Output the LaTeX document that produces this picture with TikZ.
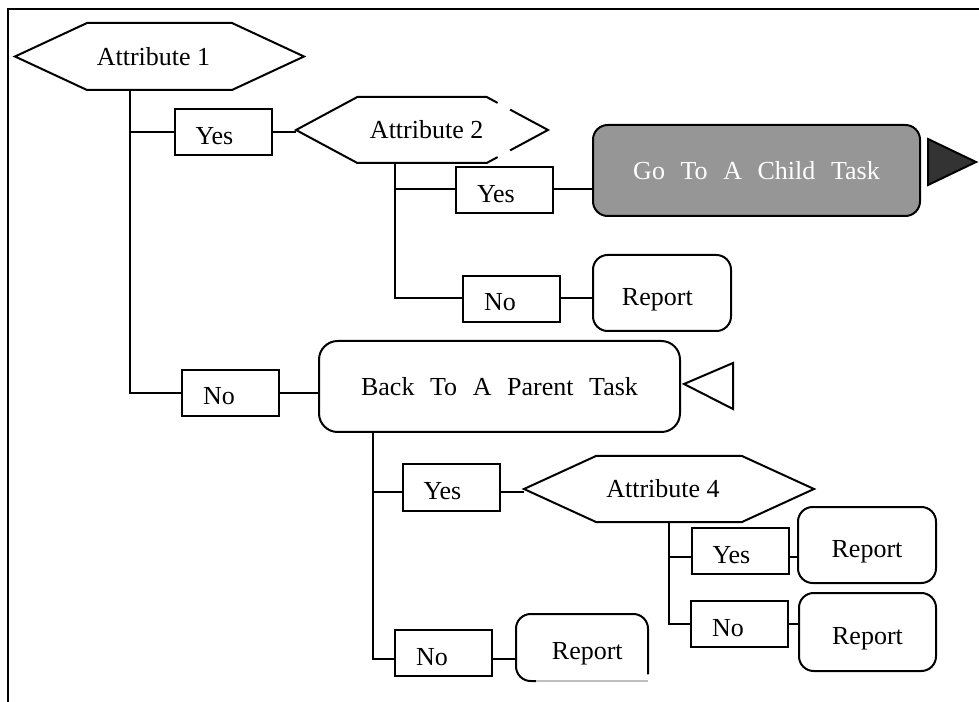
\documentclass[tikz,border=0pt]{standalone}
\usepackage{fontspec}
\setmainfont{Liberation Serif}
\usetikzlibrary{calc}

% hexagonal decision frame around a (borderless) node; #2 = depth of the points
\newcommand\hexframe[2]{%
  \draw (#1.west) -- ([xshift=#2]#1.north west) -- ([xshift=-#2]#1.north east)
    -- (#1.east) -- ([xshift=-#2]#1.south east) -- ([xshift=#2]#1.south west) -- cycle;}

\definecolor{taskgray}{HTML}{969696}
\definecolor{markdark}{HTML}{333333}

\begin{document}
\begin{tikzpicture}[x=0.75pt,y=-0.75pt,line width=1.5pt,
  every node/.style={font=\fontsize{19.5}{23}\selectfont},
  choice/.style={draw, inner xsep=15.75pt, inner ysep=0pt, text width=41.25pt,
    align=left, text height=26.25pt, text depth=8.25pt},
  hexnode/.style={inner sep=0pt, minimum width=#1, minimum height=48pt},
  report/.style={draw, rounded corners=11pt, inner sep=0pt, text height=18.5pt, text depth=0pt,
    minimum width=103.5pt, minimum height=57pt},
  widespace/.style={execute at begin node={\spaceskip=0.6em\relax}},
  marker/.style={line width=1.5pt, line join=miter}]

\useasboundingbox (0,0) rectangle (979,702);

% outer frame (top and left rules)
\coordinate (fbl) at (8,702);
\coordinate (ftl) at (8,9);
\coordinate (ftr) at (979,9);
\draw (fbl) -- (ftl) -- (ftr);

% ---- level 1 ----
\node[hexnode=215.25pt, minimum height=48.75pt] (a1) at (159.5,56.5) {\hspace*{-9pt}Attribute 1};
\hexframe{a1}{54pt}
\coordinate (t1) at (130,89);

\node[choice] (y1) at (223,132.5) {Yes};
\node[choice] (n1) at (230.5,393) {No};

% ---- Attribute 2 branch ----
\node[hexnode=187.5pt] (a2) at (422,130) {Attribute 2\hspace*{-7pt}};
\hexframe{a2}{46pt}
% small breaks in the right-hand points
\draw[white, line width=3.5pt]
  ($([xshift=-46pt]a2.north east)!0.18!(a2.east)$) -- ($([xshift=-46pt]a2.north east)!0.38!(a2.east)$);
\draw[white, line width=3.5pt]
  ($([xshift=-46pt]a2.south east)!0.18!(a2.east)$) -- ($([xshift=-46pt]a2.south east)!0.38!(a2.east)$);
\coordinate (t2) at (395,162);

\node[choice] (y2) at (504.5,190.5) {Yes};
\node[choice] (n2) at (511.5,299) {No};

\node[draw, fill=taskgray, text=white, rounded corners=11pt, inner sep=0pt,
  minimum width=245.25pt, minimum height=68.25pt, widespace] (go) at (756.5,170.5)
  {Go To A Child Task};
\draw[marker, fill=markdark] (928,139) -- (976,162) -- (928,185) -- cycle;

\node[report] (r1) at (662,293) {\hspace*{-7pt}Report};

% ---- back to parent ----
\node[draw, rounded corners=14pt, inner sep=0pt, minimum width=270.75pt,
  minimum height=68.25pt, widespace] (back) at (499.5,386.5) {Back To A Parent Task};
\draw[marker] (684,384) -- (733,363) -- (733,409) -- cycle;
\coordinate (t3) at (373,432);

\node[choice] (y3) at (451,487.5) {Yes};
\node[choice] (n3) at (443.5,653) {No};

% ---- Attribute 4 branch ----
\node[hexnode=216pt] (a4) at (669,489) {\hspace*{-9pt}Attribute 4};
\hexframe{a4}{54pt}

\node[choice] (y4) at (740,551) {Yes};
\node[choice] (n4) at (739.5,624) {No};

\node[report] (r4) at (867,545) {Report};
\node[report, minimum width=102.75pt, minimum height=58.5pt] (r5) at (867.5,632) {Report};

% last report box, partly cut off at the lower right
\node[report, draw=none, minimum width=97.5pt, minimum height=48.75pt] (r3) at (582,647.5) {Report\hspace*{-8pt}};
\draw[rounded corners=11pt] ([yshift=5pt]r3.south east) -- (r3.north east)
  -- (r3.north west) -- (r3.south west) -- ([xshift=15pt]r3.south west);
\draw[black!25, line width=0.9pt] ([xshift=15pt]r3.south west) -- (r3.south east);

% ---- connectors ----
\draw (t1) |- (y1.west);
\draw (t1) |- (n1.west);
\draw (y1.east) -- (y1.east -| a2.west);
\draw (n1.east) -- (n1.east -| back.west);

\draw (t2) |- ([yshift=1pt]y2.west);
\draw (t2) |- ([yshift=1pt]n2.west);
\draw ([yshift=1pt]y2.east) -- ([yshift=1pt]y2.east -| go.west);
\draw ([yshift=1pt]n2.east) -- ([yshift=1pt]n2.east -| r1.west);

\draw (t3) |- ([yshift=-3pt]y3.west);
\draw (t3) |- ([yshift=-4.5pt]n3.west);
\draw ([yshift=-3pt]y3.east) -- ([yshift=-3pt]y3.east -| a4.west);
\draw ([yshift=-4.5pt]n3.east) -- ([yshift=-4.5pt]n3.east -| r3.west);

\draw (a4.south) |- ([yshift=-4.5pt]y4.west);
\draw (a4.south) |- (n4.west);
\draw ([yshift=-4.5pt]y4.east) -- ([yshift=-4.5pt]y4.east -| r4.west);
\draw (n4.east) -- (n4.east -| r5.west);

\end{tikzpicture}
\end{document}
